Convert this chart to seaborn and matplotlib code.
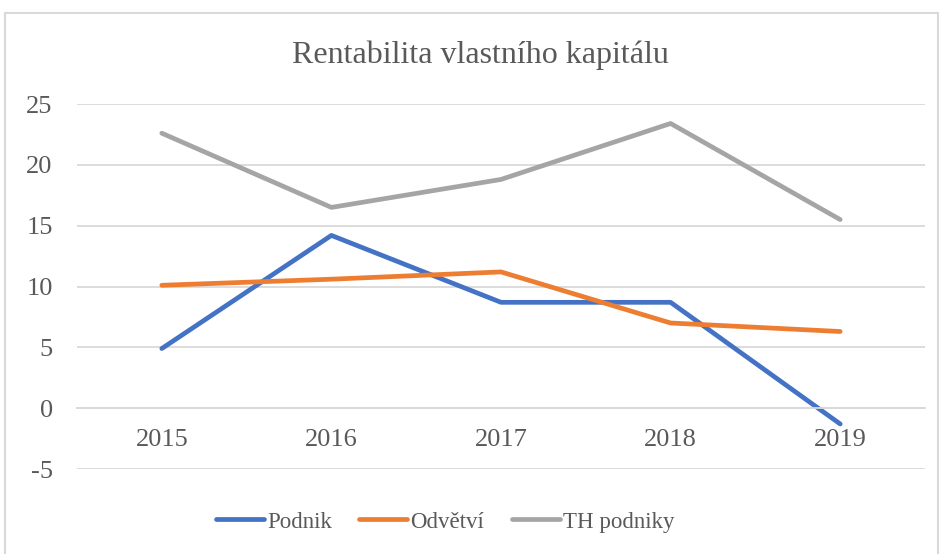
import pandas as pd
import matplotlib.pyplot as plt
import seaborn as sns
from matplotlib.patches import Rectangle

# data
years = ["2015", "2016", "2017", "2018", "2019"]
podnik = [4.9, 14.2, 8.7, 8.7, -1.3]
odvetvi = [10.1, 10.6, 11.2, 7.0, 6.3]
th_podniky = [22.6, 16.5, 18.8, 23.4, 15.5]

series = ["Podnik", "Odvětví", "TH podniky"]
colors = ["#4472C4", "#ED7D31", "#A5A5A5"]

df = pd.DataFrame({
    "rok": years * 3,
    "hodnota": podnik + odvetvi + th_podniky,
    "serie": [s for s in series for _ in years],
})

sns.set_theme(style="white")
plt.rcParams["font.family"] = ["Liberation Serif", "DejaVu Serif"]
plt.rcParams["axes.unicode_minus"] = False

text_col = "#595959"
grid_col = "#d9d9d9"

fig = plt.figure(figsize=(9.42, 5.54), dpi=100)
ax = fig.add_axes([77 / 942, 1 - 469 / 554, 848 / 942, 365 / 554])

sns.lineplot(data=df, x="rok", y="hodnota", hue="serie", palette=colors,
             sort=False, linewidth=3.4, ax=ax, legend=True)
for ln in ax.get_lines():
    ln.set_solid_capstyle("round")
    ln.set_solid_joinstyle("round")

ax.set_xlim(-0.5, 4.5)
ax.set_ylim(-5, 25)
ax.set_yticks(range(-5, 26, 5))
ax.yaxis.grid(True, color=grid_col, linewidth=1.3)
ax.set_axisbelow(True)
ax.set_xlabel("")
ax.set_ylabel("")

for s in ["top", "right", "left"]:
    ax.spines[s].set_visible(False)
ax.spines["bottom"].set_position(("data", 0))
ax.spines["bottom"].set_color(grid_col)
ax.spines["bottom"].set_linewidth(1.3)

ax.tick_params(axis="both", length=0, labelsize=19, labelcolor=text_col)
ax.tick_params(axis="x", pad=15)
ax.tick_params(axis="y", pad=17.5)

fig.text(480 / 942, 1 - 55 / 554, "Rentabilita vlastního kapitálu",
         ha="center", va="center", fontsize=23, color=text_col)

handles, labels = ax.get_legend_handles_labels()
ax.legend(handles, labels, loc="center", bbox_to_anchor=(445 / 942, 1 - 522 / 554),
          bbox_transform=fig.transFigure, ncol=3, frameon=False,
          fontsize=16.5, labelcolor=text_col, handlelength=2.1,
          handletextpad=0.13, columnspacing=1.2)
for h in ax.get_legend().get_lines():
    h.set_linewidth(3.4)
    h.set_solid_capstyle("round")

fig.patches.append(Rectangle((5 / 942, -0.05), 933 / 942, 1.05 - 13 / 554,
                             transform=fig.transFigure, fill=False,
                             edgecolor=grid_col, linewidth=1.5))

fig.savefig("out.png", dpi=100)
